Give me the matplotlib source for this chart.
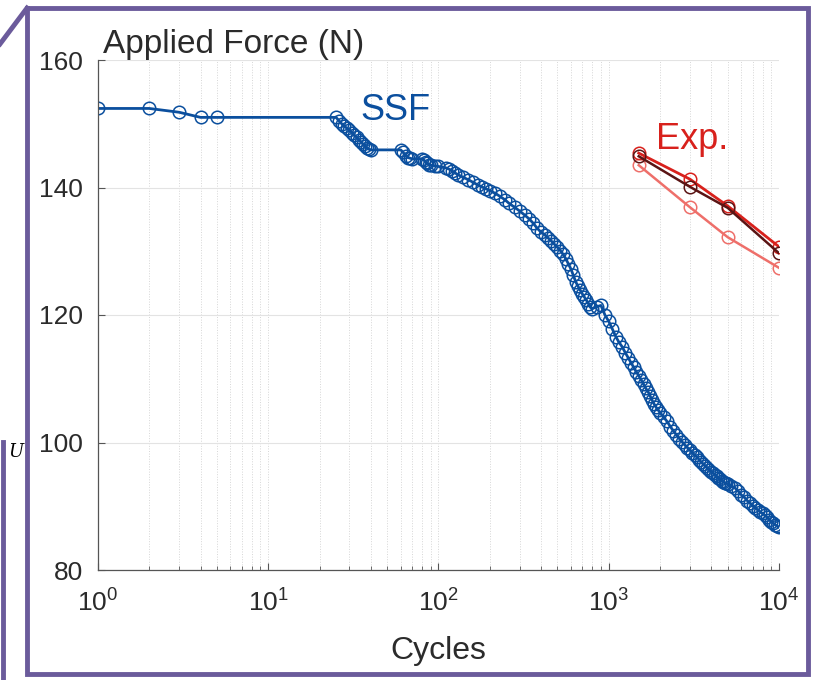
import numpy as np
import matplotlib.pyplot as plt
from matplotlib.lines import Line2D

plt.rcParams['font.family'] = ['Liberation Sans', 'DejaVu Sans']

# SSF simulation
ssf_cycles = [1, 2, 3, 4, 5,
              25, 26, 27, 28, 29, 30, 31, 32, 33, 34, 35, 36, 37, 38, 39, 40,
              60, 62, 64, 66, 68, 70,
              80, 82, 84, 86, 88, 90, 95, 100,
              110, 115, 120, 125, 130, 140, 150, 160, 170, 180, 190, 200,
              215, 230, 245, 260, 280, 300, 320, 340, 360, 380, 400,
              420, 440, 460, 480, 500, 520, 540, 560, 580, 600, 620, 640,
              660, 680, 700, 720, 740, 760, 780, 800, 850, 900, 950,
              1000, 1050, 1100, 1150, 1200, 1250, 1300, 1350, 1400, 1450,
              1500, 1550, 1600, 1650, 1700, 1750, 1800, 1850, 1900, 1950,
              2000, 2100, 2200, 2300, 2400, 2500, 2600, 2700, 2800, 2900,
              3000, 3100, 3200, 3300, 3400, 3500, 3600, 3700, 3800, 3900,
              4000, 4100, 4200, 4300, 4400, 4500, 4600, 4700, 4800, 4900,
              5000, 5250, 5500, 5750, 6000, 6250, 6500, 6750, 7000, 7250,
              7500, 7750, 8000, 8250, 8500, 8750, 9000, 9250, 9500, 9750,
              10000]
ssf_force = [152.4, 152.4, 151.8, 151.0, 151.0,
             151.0, 150.5, 150.0, 149.6, 149.3, 149.0, 148.6, 148.2, 147.9, 147.5, 147.2, 146.8, 146.5, 146.2, 146.0, 145.9,
             145.9, 145.5, 145.0, 144.7, 144.6, 144.5,
             144.5, 144.3, 144.0, 143.8, 143.6, 143.5, 143.4, 143.3,
             143.1, 142.9, 142.6, 142.3, 142.0, 141.6, 141.2, 140.8, 140.4, 140.1, 139.8, 139.5,
             139.1, 138.6, 138.1, 137.5, 136.9, 136.3, 135.7, 135.1, 134.4, 133.6, 133.0,
             132.6, 132.1, 131.6, 131.1, 130.6, 130.1, 129.5, 128.8, 128.0, 127.2, 126.2, 125.2,
             124.5, 123.9, 123.3, 122.8, 122.3, 121.8, 121.2, 121.0, 121.3, 121.5, 120.0,
             119.0, 117.8, 116.6, 115.7, 115.0, 114.1, 113.3, 112.5, 111.8, 111.1,
             110.5, 109.8, 109.1, 108.5, 108.0, 107.3, 106.6, 106.0, 105.5, 105.1,
             104.7, 104.0, 103.3, 102.5, 101.8, 101.2, 100.6, 100.1, 99.6, 99.2,
             98.8, 98.4, 98.0, 97.7, 97.3, 96.9, 96.6, 96.3, 96.0, 95.7,
             95.4, 95.2, 94.9, 94.7, 94.4, 94.2, 94.0, 93.8, 93.7, 93.6,
             93.5, 93.2, 92.9, 92.4, 91.8, 91.4, 90.9, 90.5, 90.1, 89.8,
             89.4, 89.1, 88.9, 88.6, 88.3, 87.9, 87.6, 87.3, 87.1, 86.9,
             86.7]

# experiments
exp_cycles = [1500, 3000, 5000, 10000]
exp_dark = [144.9, 140.1, 136.8, 129.7]
exp_red = [145.4, 141.3, 137.1, 130.7]
exp_light = [143.5, 136.9, 132.2, 127.4]

blue = '#0b4f9e'
purple = '#6b5b9b'

fig = plt.figure(figsize=(8.2, 6.8), dpi=100)
ax = fig.add_axes([98/820, 1-570/680, (779-98)/820, (570-60)/680])

mk = dict(marker='o', ms=9, mfc='none', mew=1.1)
ax.plot(ssf_cycles, ssf_force, '-', color=blue, lw=2.0, **mk)
ax.plot(exp_cycles, exp_light, '-', color='#ee6f6a', lw=1.8, **mk)
ax.plot(exp_cycles, exp_red, '-', color='#d8211c', lw=2.0, **mk)
ax.plot(exp_cycles, exp_dark, '-', color='#5a1414', lw=1.8, **mk)

ax.set_xscale('log')
ax.set_xlim(1, 1e4)
ax.set_ylim(80, 160)
ax.set_yticks([80, 100, 120, 140, 160])
ax.grid(which='major', axis='y', color='#e3e3e3', lw=0.8)
ax.grid(which='both', axis='x', color='#d6d6d6', lw=0.7, ls=':')
ax.set_axisbelow(True)
for s in ['top', 'right']:
    ax.spines[s].set_visible(False)
for s in ['left', 'bottom']:
    ax.spines[s].set_color('#555555')
    ax.spines[s].set_linewidth(0.9)
ax.tick_params(which='both', direction='in', colors='#555555', labelcolor='#2b2b2b',
               labelsize=19)
ax.tick_params(which='major', length=5)
ax.tick_params(which='minor', length=3)
ax.tick_params(axis='x', which='major', pad=14)
ax.tick_params(axis='y', which='major', pad=11)

ax.set_xlabel('Cycles', fontsize=23, color='#2b2b2b', labelpad=14)
fig.text(103/820, 1-53/680, 'Applied Force (N)', fontsize=24, color='#2b2b2b', va='baseline')
ax.text(0.385, 0.9, 'SSF', transform=ax.transAxes, fontsize=26, color=blue, va='center')
ax.text(0.82, 0.845, 'Exp.', transform=ax.transAxes, fontsize=26, color='#d8211c', va='center')

# slide frame around the chart
def px(x, y):
    return x/820, 1-y/680

frame = [px(27, 8), px(808, 8), px(808, 674), px(27, 674), px(27, 8)]
fig.add_artist(Line2D([p[0] for p in frame], [p[1] for p in frame], color=purple, lw=3.5,
                      solid_joinstyle='miter'))
diag = [px(27, 8), px(0, 44)]
fig.add_artist(Line2D([p[0] for p in diag], [p[1] for p in diag], color=purple, lw=3.5))
left = [px(3, 442), px(3, 680)]
fig.add_artist(Line2D([p[0] for p in left], [p[1] for p in left], color=purple, lw=3.5))
fig.text(8/820, 1-452/680, 'U', fontsize=13, style='italic', family='DejaVu Serif', va='center')

fig.savefig('out.png', dpi=100)
